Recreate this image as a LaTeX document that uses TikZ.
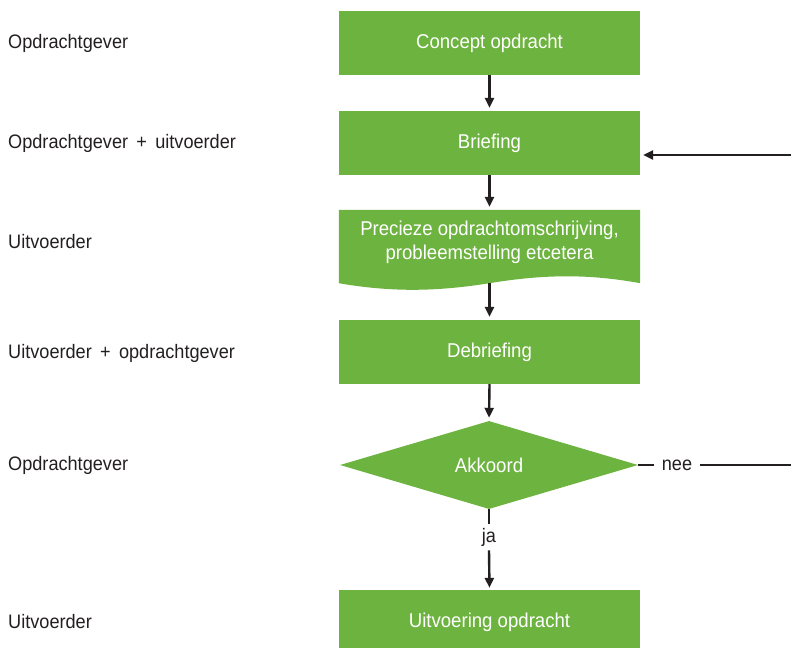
\documentclass[tikz,border=0pt]{standalone}
\usepackage{fontspec}
\setmainfont[FakeStretch=0.93]{Liberation Sans}
\usetikzlibrary{shapes.geometric,arrows.meta}
\definecolor{boxgreen}{HTML}{6DB33F}
\definecolor{ink}{HTML}{231F20}
\begin{document}
\begin{tikzpicture}[x=1pt,y=1pt,
 box/.style={fill=boxgreen, minimum width=301pt, minimum height=64pt, inner sep=0pt, text=white, font=\fontsize{20}{24}\selectfont},
 boxtext/.style={text=white, align=center, inner sep=0pt, font=\fontsize{20}{24}\selectfont},
 lab/.style={anchor=west, text=ink, font=\fontsize{19.5}{23}\selectfont, inner sep=0pt},
 flow/.style={draw=ink, line width=2.4pt, -{Triangle[length=10pt,width=9pt]}},
 plain/.style={draw=ink, line width=2.4pt},
 small/.style={text=ink, font=\fontsize{19.5}{23}\selectfont}]
\useasboundingbox (0,0) rectangle (791,-647);
\clip (0,0) rectangle (791,-647);
% left labels
\node[lab] (l1) at (8,-43) {Opdrachtgever};
\node[lab] (l2) at (8,-143) {Opdrachtgever \,+\, uitvoerder};
\node[lab] (l3) at (8,-242) {Uitvoerder};
\node[lab] (l4) at (8,-353) {Uitvoerder \,+\, opdrachtgever};
\node[lab] (l5) at (8,-465) {Opdrachtgever};
\node[lab] (l6) at (8,-622) {Uitvoerder};
% boxes
\node[box] (concept) at (489.5,-43) {Concept opdracht};
\node[box] (brief) at (489.5,-143) {Briefing};
\node[minimum width=301pt, minimum height=73pt, inner sep=0pt] (doc) at (489.5,-246.5) {};
\fill[boxgreen] (doc.north west) -- (doc.north east) -- (doc.south east)
  .. controls (590,-274) and (545,-274) .. (doc.south)
  .. controls (434,-292) and (390,-292) .. (doc.south west) -- cycle;
\node[boxtext] (doctext) at (489.5,-242) {Precieze opdrachtomschrijving,\\probleemstelling etcetera};
\node[box] (debrief) at (489.5,-352) {Debriefing};
\node[diamond, fill=boxgreen, minimum width=298pt, minimum height=88pt, inner sep=0pt, text=white, font=\fontsize{20}{24}\selectfont] (akk) at (489,-465) {Akkoord};
\node[box] (uit) at (489.5,-622) {Uitvoering opdracht};
% connectors
\draw[flow, shorten >=3pt] (concept.south) -- (brief.north);
\draw[flow, shorten >=3pt] (brief.south) -- (doc.north);
\draw[flow, shorten >=3pt] (doc.south) -- (debrief.north);
\draw[flow, shorten >=3pt] (debrief.south) -- (akk.north);
\node[small, inner xsep=8pt, inner ysep=0pt] (nee) at (677,-465) {nee};
\coordinate (neeend) at (791,-465);
\coordinate (fbstart) at (791,-155);
\draw[plain] (akk.east) -- (nee.west);
\draw[plain] (nee.east) -- (neeend);
\draw[flow, shorten >=3pt] (fbstart) -- (brief.east |- fbstart);
\node[small, inner xsep=0pt, inner ysep=4pt] (ja) at (489,-537) {ja};
\draw[plain] (akk.south) -- (ja.north);
\draw[flow, shorten >=2pt] (ja.south) -- (uit.north);
\end{tikzpicture}
\end{document}
